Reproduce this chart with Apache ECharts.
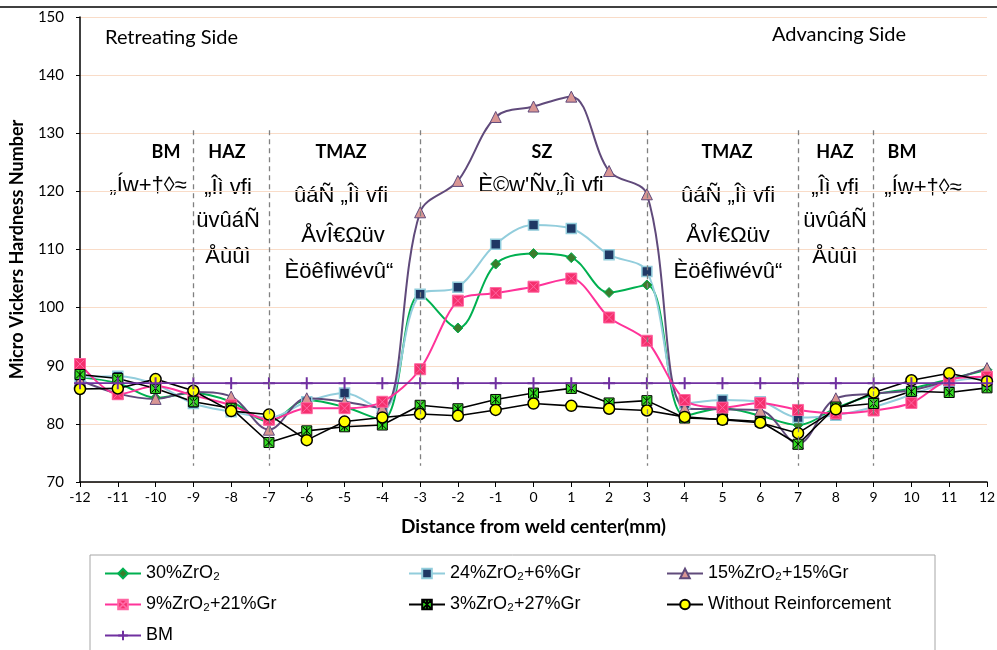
<!DOCTYPE html>
<html>
<head>
<meta charset="utf-8">
<script src="https://cdn.jsdelivr.net/npm/echarts@6/dist/echarts.min.js"></script>
<style>
html,body{margin:0;padding:0;background:#fff;}
#chart{width:997px;height:650px;}
</style>
</head>
<body>
<div id="chart"></div>
<script>
// ---- data ----
const distances = [-12,-11,-10,-9,-8,-7,-6,-5,-4,-3,-2,-1,0,1,2,3,4,5,6,7,8,9,10,11,12];
const zro30 = [88.0,87.0,84.5,85.3,83.8,80.4,84.1,82.9,80.7,102.2,96.5,107.5,109.3,108.6,102.6,103.9,81.4,82.7,81.4,79.8,82.7,85.0,86.1,87.7,89.3];
const zro24gr6 = [88.0,88.2,86.8,83.5,82.1,81.1,83.8,85.3,82.4,102.3,103.5,110.9,114.2,113.6,109.1,106.2,83.5,84.1,83.8,81.1,81.5,82.9,85.0,87.2,88.0];
const zro15gr15 = [87.5,85.2,84.3,85.5,84.7,79.0,84.4,83.8,82.7,116.4,121.8,132.8,134.6,136.3,123.5,119.5,82.7,82.5,82.3,76.6,84.4,85.2,85.8,87.5,89.6];
const zro9gr21 = [90.3,85.1,86.5,84.9,83.2,80.7,82.7,82.7,83.8,89.4,101.2,102.5,103.6,105.0,98.3,94.3,84.1,82.8,83.6,82.4,81.8,82.3,83.6,87.6,88.1];
const zro3gr27 = [88.5,87.8,86.1,83.8,82.7,76.8,78.8,79.5,79.8,83.2,82.6,84.2,85.3,86.1,83.6,84.0,81.0,80.8,80.4,76.5,82.9,83.5,85.6,85.4,86.2];
const withoutReinf = [86.0,86.1,87.7,85.7,82.2,81.6,77.2,80.4,81.1,81.7,81.4,82.4,83.5,83.1,82.6,82.3,81.2,80.7,80.2,78.4,82.5,85.4,87.5,88.7,87.3];
const bmValues = [87,87,87,87,87,87,87,87,87,87,87,87,87,87,87,87,87,87,87,87,87,87,87,87,87];
const zoneBounds = [-9,-7,-3,3,7,9];
const seriesNames = ['30%ZrO₂','24%ZrO₂+6%Gr','15%ZrO₂+15%Gr','9%ZrO₂+21%Gr','3%ZrO₂+27%Gr','Without Reinforcement','BM'];
const yTicks = {min:70, max:150, interval:10};

const pair = arr => distances.map((d,i)=>[d, arr[i]]);

const chart = echarts.init(document.getElementById('chart'), null, {renderer:'canvas'});

const garbleFont = '"Liberation Sans Narrow", "Liberation Sans", sans-serif';
const calFont = 'Lato, "Open Sans", sans-serif';
function zoneText(x, y, text) {
  return {type:'text', x:x, y:y,
    style:{text:text, fill:'#000', font:'22px ' + garbleFont, align:'center', verticalAlign:'middle'}};
}
function head(x, y, text) {
  return {type:'text', x:x, y:y, style:{text:text, fill:'#000', font:'bold 18px ' + calFont, align:'center', verticalAlign:'middle'}};
}
const legendCommon = {orient:'vertical', top:564, padding:0, itemGap:12, itemWidth:36, itemHeight:12,
  textStyle:{fontSize:18, fontFamily:garbleFont, color:'#000', lineHeight:19}};

const option = {
  animation:false,
  backgroundColor:'#fff',
  grid:{left:80, right:10, top:17, bottom:168, containLabel:false, outerBoundsMode:'none'},
  xAxis:{
    type:'value', min:-12, max:12, interval:1,
    name:'Distance from weld center(mm)', nameLocation:'middle', nameGap:35,
    nameTextStyle:{fontFamily:calFont, fontWeight:'bold', fontSize:19, color:'#000'},
    axisLine:{onZero:false, lineStyle:{color:'#000', width:1.5}},
    axisTick:{show:true, inside:false, length:5, lineStyle:{color:'#000'}},
    axisLabel:{color:'#000', fontSize:14, fontFamily:calFont, margin:8},
    splitLine:{show:false}
  },
  yAxis:{
    type:'value', min:yTicks.min, max:yTicks.max, interval:yTicks.interval,
    name:'Micro Vickers Hardness Number', nameLocation:'middle', nameGap:54, nameRotate:90,
    nameTextStyle:{fontFamily:calFont, fontWeight:'bold', fontSize:18, color:'#000'},
    axisLine:{show:true, onZero:false, lineStyle:{color:'#000', width:1.5}},
    axisTick:{show:true, inside:false, length:4, lineStyle:{color:'#000'}},
    axisLabel:{color:'#000', fontSize:15, fontFamily:calFont, margin:16},
    splitLine:{show:true, lineStyle:{color:'#f9dcc8', width:1.2}}
  },
  legend:[
    Object.assign({left:104, data:[seriesNames[0], seriesNames[3], seriesNames[6]]}, legendCommon),
    Object.assign({left:408, data:[seriesNames[1], seriesNames[4]]}, legendCommon),
    Object.assign({left:666, data:[seriesNames[2], seriesNames[5]]}, legendCommon)
  ],
  graphic:[
    {type:'line', shape:{x1:0, y1:7, x2:997, y2:7}, style:{stroke:'#000', lineWidth:1.5}, z:-1},
    {type:'rect', shape:{x:90, y:555, width:845, height:110}, style:{fill:'#fff', stroke:'#a6a6a6', lineWidth:1}, z:-10},
    {type:'text', x:105, y:38, style:{text:'Retreating Side', fill:'#000', font:'20px ' + calFont, verticalAlign:'middle'}},
    {type:'text', x:772, y:35, style:{text:'Advancing Side', fill:'#000', font:'20px ' + calFont, verticalAlign:'middle'}},
    head(166,152,'BM'), zoneText(148,186,'„Íw+†◊≈'),
    head(227,152,'HAZ'), zoneText(228,188,'„Îì vfi'), zoneText(228,221,'üvûáÑ'), zoneText(228,257,'Åùûì'),
    head(341,152,'TMAZ'), zoneText(341,196,'ûáÑ „Îì vfi'), zoneText(343,236,'ÅvÎ€Ωüv'), zoneText(339,272,'Èöêfiwévû“'),
    head(542,152,'SZ'), zoneText(541,186,'È©w\'Ñv„Îì vfi'),
    head(727,152,'TMAZ'), zoneText(728,196,'ûáÑ „Îì vfi'), zoneText(728,236,'ÅvÎ€Ωüv'), zoneText(728,272,'Èöêfiwévû“'),
    head(835,152,'HAZ'), zoneText(835,188,'„Îì vfi'), zoneText(835,221,'üvûáÑ'), zoneText(835,257,'Åùûì'),
    head(902,152,'BM'), zoneText(923,188,'„Íw+†◊≈')
  ],
  series:[
    {name:seriesNames[0], type:'line', data:pair(zro30), smooth:0.35,
     lineStyle:{color:'#00b050', width:2}, symbol:'diamond', symbolSize:10,
     itemStyle:{color:'#3a7d2c', borderColor:'#00b050', borderWidth:1}},
    {name:seriesNames[1], type:'line', data:pair(zro24gr6), smooth:0.35,
     lineStyle:{color:'#92cddc', width:2}, symbol:'rect', symbolSize:10,
     itemStyle:{color:'#1f3864', borderColor:'#92cddc', borderWidth:1.5}},
    {name:seriesNames[2], type:'line', data:pair(zro15gr15), smooth:0.35,
     lineStyle:{color:'#604a7b', width:2}, symbol:'triangle', symbolSize:11,
     itemStyle:{color:'#d99694', borderColor:'#604a7b', borderWidth:1}},
    {name:seriesNames[3], type:'line', data:pair(zro9gr21), smooth:0.3,
     lineStyle:{color:'#ff3399', width:2}, symbol:'path://M0,0 L10,0 L10,10 L0,10 Z M1,1 L9,9 M9,1 L1,9', symbolSize:11,
     itemStyle:{color:'#f5306e', borderColor:'#ff66a3', borderWidth:1}},
    {name:seriesNames[4], type:'line', data:pair(zro3gr27), smooth:false,
     lineStyle:{color:'#000', width:1.6}, symbol:'path://M0,0 L10,0 L10,10 L0,10 Z M1,1 L9,9 M9,1 L1,9 M5,1 L5,9', symbolSize:10,
     itemStyle:{color:'#33dd22', borderColor:'#000', borderWidth:1}},
    {name:seriesNames[5], type:'line', data:pair(withoutReinf), smooth:false,
     lineStyle:{color:'#000', width:1.6}, symbol:'circle', symbolSize:11,
     itemStyle:{color:'#ffff00', borderColor:'#000', borderWidth:1.5}},
    {name:seriesNames[6], type:'line', data:pair(bmValues), smooth:false,
     lineStyle:{color:'#7030a0', width:1.8}, symbol:'path://M5,0 L5,10 M0,5 L10,5', symbolSize:12, symbolKeepAspect:true,
     itemStyle:{color:'none', borderColor:'#7030a0', borderWidth:2},
     markLine:{silent:true, symbol:'none', label:{show:false},
       lineStyle:{color:'#808080', type:[5,4], width:1.3},
       data: zoneBounds.map(b=>[{coord:[b,130.5]},{coord:[b,72.8]}])}}
  ]
};
chart.setOption(option);
</script>
</body>
</html>
